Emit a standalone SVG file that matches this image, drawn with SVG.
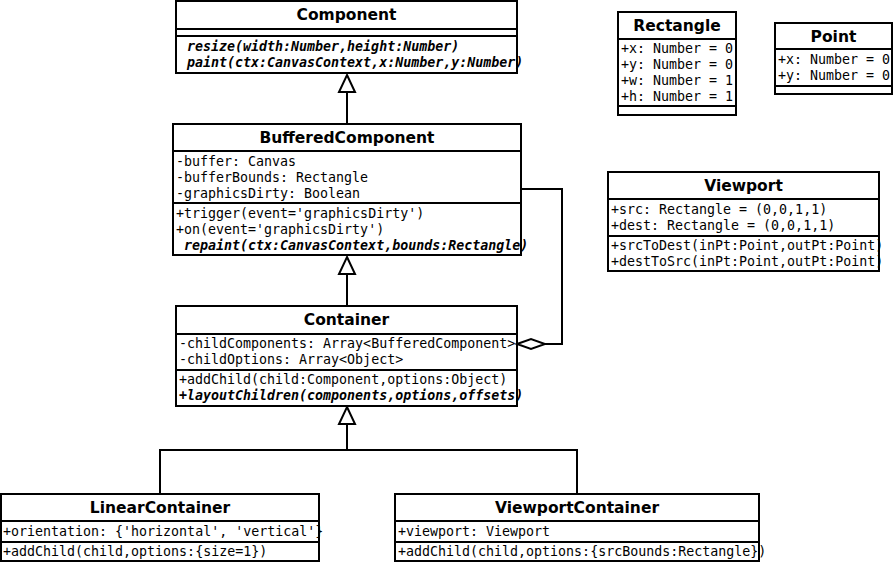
<svg xmlns="http://www.w3.org/2000/svg" width="893" height="562" viewBox="0 0 893 562">
<style>
rect.box{fill:#fff;stroke:#000;stroke-width:2}
line.sep{stroke:#000;stroke-width:2}
.t{font-family:"DejaVu Sans",sans-serif;font-weight:bold;font-size:15.5px;text-anchor:middle;fill:#000}
.m{font-family:"DejaVu Sans Mono",monospace;font-size:13.3px;fill:#000}
.a{font-style:italic;font-weight:bold}
.c{fill:none;stroke:#000;stroke-width:2}
.tri{fill:#fff;stroke:#000;stroke-width:2}
</style>
<g id="Component">
<rect class="box" x="176" y="1" width="341" height="72"/>
<line class="sep" x1="176" y1="29" x2="517" y2="29"/>
<line class="sep" x1="176" y1="36" x2="517" y2="36"/>
<text class="t" x="346.5" y="20">Component</text>
<text class="m a" x="187" y="51">resize(width:Number,height:Number)</text>
<text class="m a" x="187" y="67">paint(ctx:CanvasContext,x:Number,y:Number)</text>
</g>
<g id="Rectangle">
<rect class="box" x="618" y="12" width="118" height="103"/>
<line class="sep" x1="618" y1="39" x2="736" y2="39"/>
<line class="sep" x1="618" y1="106" x2="736" y2="106"/>
<text class="t" x="677" y="31">Rectangle</text>
<text class="m" x="621" y="53">+x: Number = 0</text>
<text class="m" x="621" y="69">+y: Number = 0</text>
<text class="m" x="621" y="85">+w: Number = 1</text>
<text class="m" x="621" y="101">+h: Number = 1</text>
</g>
<g id="Point">
<rect class="box" x="775" y="23" width="117" height="71"/>
<line class="sep" x1="775" y1="49" x2="892" y2="49"/>
<line class="sep" x1="775" y1="86" x2="892" y2="86"/>
<text class="t" x="833.5" y="42">Point</text>
<text class="m" x="778" y="64">+x: Number = 0</text>
<text class="m" x="778" y="80">+y: Number = 0</text>
</g>
<g id="BufferedComponent">
<rect class="box" x="173" y="124" width="348" height="131"/>
<line class="sep" x1="173" y1="151" x2="521" y2="151"/>
<line class="sep" x1="173" y1="203" x2="521" y2="203"/>
<text class="t" x="347" y="143">BufferedComponent</text>
<text class="m" x="176" y="166">-buffer: Canvas</text>
<text class="m" x="176" y="182">-bufferBounds: Rectangle</text>
<text class="m" x="176" y="198">-graphicsDirty: Boolean</text>
<text class="m" x="176" y="218">+trigger(event='graphicsDirty')</text>
<text class="m" x="176" y="234">+on(event='graphicsDirty')</text>
<text class="m a" x="184" y="250">repaint(ctx:CanvasContext,bounds:Rectangle)</text>
</g>
<g id="Viewport">
<rect class="box" x="608" y="172" width="271" height="99"/>
<line class="sep" x1="608" y1="199" x2="879" y2="199"/>
<line class="sep" x1="608" y1="236" x2="879" y2="236"/>
<text class="t" x="743.5" y="191">Viewport</text>
<text class="m" x="611" y="214">+src: Rectangle = (0,0,1,1)</text>
<text class="m" x="611" y="230">+dest: Rectangle = (0,0,1,1)</text>
<text class="m" x="611" y="250">+srcToDest(inPt:Point,outPt:Point)</text>
<text class="m" x="611" y="266">+destToSrc(inPt:Point,outPt:Point)</text>
</g>
<g id="Container">
<rect class="box" x="176" y="306" width="341" height="100"/>
<line class="sep" x1="176" y1="334" x2="517" y2="334"/>
<line class="sep" x1="176" y1="370" x2="517" y2="370"/>
<text class="t" x="346.5" y="325">Container</text>
<text class="m" x="179" y="348">-childComponents: Array&lt;BufferedComponent&gt;</text>
<text class="m" x="179" y="364">-childOptions: Array&lt;Object&gt;</text>
<text class="m" x="179" y="384">+addChild(child:Component,options:Object)</text>
<text class="m a" x="179" y="400">+layoutChildren(components,options,offsets)</text>
</g>
<g id="LinearContainer">
<rect class="box" x="1" y="494" width="318" height="67"/>
<line class="sep" x1="1" y1="521" x2="319" y2="521"/>
<line class="sep" x1="1" y1="542" x2="319" y2="542"/>
<text class="t" x="160" y="513">LinearContainer</text>
<text class="m" x="3" y="536">+orientation: {'horizontal', 'vertical'}</text>
<text class="m" x="3" y="556">+addChild(child,options:{size=1})</text>
</g>
<g id="ViewportContainer">
<rect class="box" x="395" y="494" width="364" height="67"/>
<line class="sep" x1="395" y1="521" x2="759" y2="521"/>
<line class="sep" x1="395" y1="542" x2="759" y2="542"/>
<text class="t" x="577" y="513">ViewportContainer</text>
<text class="m" x="398" y="536">+viewport: Viewport</text>
<text class="m" x="398" y="556">+addChild(child,options:{srcBounds:Rectangle})</text>
</g>
<g id="connectors">
<path class="c" d="M347 124 V92"/>
<path class="tri" d="M347 75 L355 92 L339 92 Z"/>
<path class="c" d="M347 306 V274"/>
<path class="tri" d="M347 257 L355 274 L339 274 Z"/>
<path class="c" d="M160 494 V450 H577 V494 M347 450 V424"/>
<path class="tri" d="M347 407 L355 424 L339 424 Z"/>
<path class="c" d="M521 189 H562 V344 H545"/>
<path class="tri" d="M517 344 L531 339 L545 344 L531 349 Z"/>
</g>
</svg>
